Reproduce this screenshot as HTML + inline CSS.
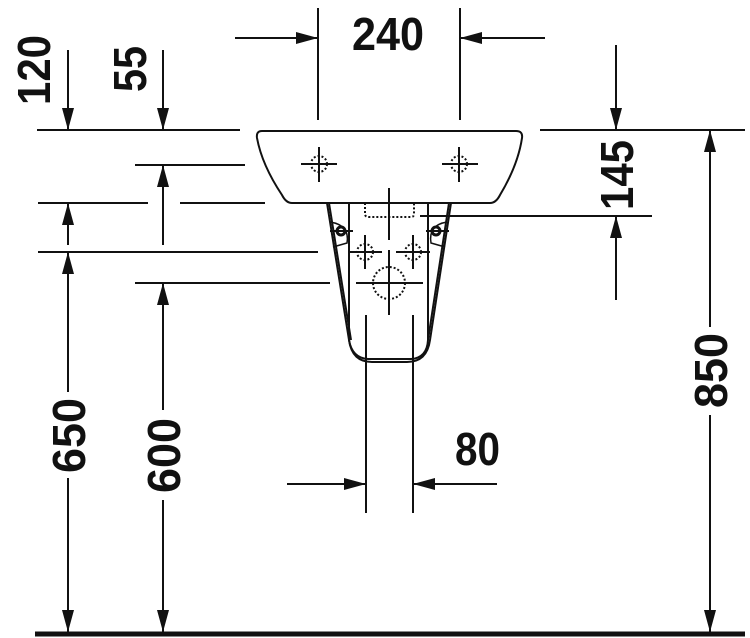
<!DOCTYPE html>
<html><head><meta charset="utf-8"><style>html,body{margin:0;padding:0;background:#fff}svg{display:block}</style></head>
<body>
<svg width="750" height="638" viewBox="0 0 750 638" xmlns="http://www.w3.org/2000/svg">
<defs>
<marker id="a" viewBox="0 0 22 12" refX="22" refY="6" markerWidth="22" markerHeight="12" markerUnits="userSpaceOnUse" orient="auto"><path d="M0,0 L22,6 L0,12 Z" fill="#111"/></marker>
</defs>
<g stroke="#111" stroke-width="2" fill="none">
<!-- basin -->
<path d="M262,131 L516,131 Q523,131 522,138 Q518,165 500,195 Q496,203 490,203 L292,203 Q286,203 282,195 Q262,165 257,138 Q256,131 262,131 Z"/>
<!-- pedestal outer -->
<path d="M327,203 L349,340 Q352,362 372,362 L407,362 Q427,362 430,340 L451,203"/>
<path d="M329,203 L351,340"/>
<path d="M449,203 L428,340"/>
<!-- inner -->
<path d="M349,203 L349,340 Q352,358 368,359 L411,359 Q427,358 428,340 L428,203"/>
<!-- column -->
<line x1="366" y1="315" x2="366" y2="513"/>
<line x1="413" y1="315" x2="413" y2="513"/>
<line x1="389" y1="188" x2="389" y2="240"/>
<line x1="389" y1="250" x2="389" y2="315"/>
<!-- crosses -->
<line x1="301" y1="164" x2="337" y2="164"/><line x1="319" y1="147" x2="319" y2="182"/>
<line x1="442" y1="164" x2="478" y2="164"/><line x1="459" y1="147" x2="459" y2="182"/>
<line x1="348" y1="252" x2="382" y2="252"/><line x1="365" y1="235" x2="365" y2="269"/>
<line x1="396" y1="252" x2="430" y2="252"/><line x1="413" y1="235" x2="413" y2="269"/>
<line x1="356" y1="283" x2="423" y2="283"/><line x1="389" y1="262" x2="389" y2="310"/>
<line x1="330" y1="231" x2="353" y2="231"/><line x1="426" y1="231" x2="449" y2="231"/>
<path d="M330,222 Q350,225 347,243 L333,247" stroke-width="1.5"/>
<path d="M447,222 Q428,225 431,243 L445,247" stroke-width="1.5"/>
</g>
<g stroke="#111" stroke-width="2" fill="none" stroke-dasharray="2,2">
<circle cx="319" cy="164" r="8"/><circle cx="459" cy="164" r="8"/>
<circle cx="365" cy="252" r="8"/><circle cx="413" cy="252" r="8"/>
<circle cx="389" cy="283" r="16"/>
<path d="M365,203 L365,215 Q366,217 369,217 L411,217 Q414,217 414,214 L414,203"/>
</g>
<g fill="none" stroke="#111" stroke-width="3"><circle cx="341" cy="231" r="4"/><circle cx="436" cy="231" r="4"/></g>
<!-- dimension lines -->
<g stroke="#111" stroke-width="2" fill="none">
<line x1="318" y1="8" x2="318" y2="120"/><line x1="460" y1="8" x2="460" y2="120"/>
<line x1="235" y1="38" x2="318" y2="38" marker-end="url(#a)"/>
<line x1="545" y1="38" x2="460" y2="38" marker-end="url(#a)"/>
<line x1="37" y1="130" x2="240" y2="130"/>
<line x1="68" y1="50" x2="68" y2="130" marker-end="url(#a)"/>
<line x1="163" y1="50" x2="163" y2="130" marker-end="url(#a)"/>
<line x1="135" y1="165" x2="245" y2="165"/>
<line x1="163" y1="245" x2="163" y2="165" marker-end="url(#a)"/>
<line x1="38" y1="203" x2="148" y2="203"/><line x1="180" y1="203" x2="265" y2="203"/>
<line x1="68" y1="245" x2="68" y2="203" marker-end="url(#a)"/>
<line x1="38" y1="252" x2="318" y2="252"/>
<line x1="68" y1="392" x2="68" y2="252" marker-end="url(#a)"/>
<line x1="68" y1="478" x2="68" y2="632" marker-end="url(#a)"/>
<line x1="135" y1="283" x2="330" y2="283"/>
<line x1="163" y1="410" x2="163" y2="283" marker-end="url(#a)"/>
<line x1="163" y1="500" x2="163" y2="632" marker-end="url(#a)"/>
<line x1="540" y1="130" x2="745" y2="130"/>
<line x1="616" y1="45" x2="616" y2="130" marker-end="url(#a)"/>
<line x1="420" y1="216" x2="652" y2="216"/>
<line x1="616" y1="300" x2="616" y2="216" marker-end="url(#a)"/>
<line x1="710" y1="327" x2="710" y2="130" marker-end="url(#a)"/>
<line x1="710" y1="415" x2="710" y2="632" marker-end="url(#a)"/>
<line x1="287" y1="484" x2="366" y2="484" marker-end="url(#a)"/>
<line x1="497" y1="484" x2="413" y2="484" marker-end="url(#a)"/>
</g>
<line x1="35" y1="634" x2="745" y2="634" stroke="#111" stroke-width="5"/>
<g font-family="Liberation Sans, sans-serif" font-weight="bold" font-size="46" fill="#111" lengthAdjust="spacingAndGlyphs">
<text x="352" y="50" textLength="72" lengthAdjust="spacingAndGlyphs">240</text>
<text x="455" y="465" textLength="45" lengthAdjust="spacingAndGlyphs">80</text>
<text transform="translate(50,105) rotate(-90)" textLength="70" lengthAdjust="spacingAndGlyphs">120</text>
<text transform="translate(146,92) rotate(-90)" textLength="46" lengthAdjust="spacingAndGlyphs">55</text>
<text transform="translate(633,210) rotate(-90)" textLength="70" lengthAdjust="spacingAndGlyphs">145</text>
<text transform="translate(727,408) rotate(-90)" textLength="75" lengthAdjust="spacingAndGlyphs">850</text>
<text transform="translate(85,473) rotate(-90)" textLength="75" lengthAdjust="spacingAndGlyphs">650</text>
<text transform="translate(180,493) rotate(-90)" textLength="75" lengthAdjust="spacingAndGlyphs">600</text>
</g>
</svg>
</body></html>
